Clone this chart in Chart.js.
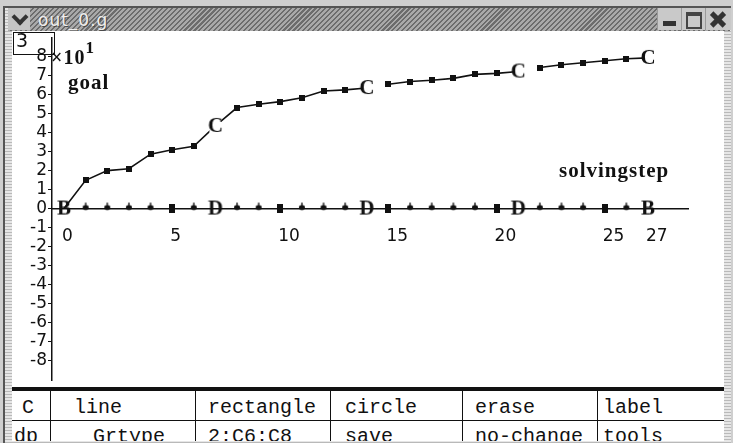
<!DOCTYPE html>
<html>
<head>
<meta charset="utf-8">
<script src="https://cdn.jsdelivr.net/npm/chart.js@4.4.0/dist/chart.umd.min.js"></script>
<style>
  body { margin:0; width:733px; height:443px; overflow:hidden; position:relative; background:#cfcfcf; font-family:"Liberation Sans", sans-serif; }
  .abs { position:absolute; }
  #marco { left:3px; top:6px; width:728px; height:437px; background:repeating-linear-gradient(0deg,#b9b9b9 0 1px,#e6e6e6 1px 3px); border-left:2px solid #555; border-top:2px solid #555; box-sizing:border-box; }
  #titulo { left:8px; top:8px; width:722px; height:23px; background:repeating-linear-gradient(135deg,#6c6c6c 0 1.5px,#a9a9a9 1.5px 3.5px); }
  #flecha { left:8px; top:8px; width:22px; height:22px; background:#c4c4c4; }
  #flecha div { position:absolute; left:6px; top:3px; width:8px; height:8px; border-right:4px solid #333; border-bottom:4px solid #333; transform:rotate(45deg); }
  #nombre { left:38px; top:10px; font:17px "DejaVu Sans", sans-serif; color:#eeeeee; letter-spacing:1px; text-shadow:1px 1px 0 #4a4a4a; }
  .boton { top:8px; width:23px; height:22px; background:#c9c9c9; border-left:1px solid #9a9a9a; }
  #blanco { left:12px; top:31px; width:712px; height:410px; background:#fff; }
  #lienzo { left:14px; top:31px; }
  #caja { left:13px; top:32px; width:42px; height:23px; border:1.5px solid #111; box-sizing:border-box; font:19px "DejaVu Sans", sans-serif; color:#111; }
  .etq { font-family:"Liberation Serif", serif; font-weight:bold; color:#111; letter-spacing:1px; }
  #panel { left:12px; top:387px; width:712px; height:54px; background:#fff; overflow:hidden; border-top:4px solid #111; box-sizing:border-box; }
  .vl { top:0; width:1px; height:54px; background:#111; }
  .txt { font:20px "Liberation Mono", monospace; line-height:20px; color:#111; white-space:pre; }
</style>
</head>
<body>
<div id="marco" class="abs"></div>
<div id="titulo" class="abs"></div>
<div id="flecha" class="abs"><div></div></div>
<div id="nombre" class="abs">out_0.g</div>
<div class="abs boton" style="left:657px"><div class="abs" style="left:5px;top:13px;width:13px;height:5px;background:#333"></div></div>
<div class="abs boton" style="left:681px"><div class="abs" style="left:4px;top:4px;width:12px;height:11px;border:2px solid #444;border-top-width:4px"></div></div>
<div class="abs boton" style="left:705px;width:25px">
  <div class="abs" style="left:3px;top:9px;width:18px;height:5px;background:#333;transform:rotate(45deg)"></div>
  <div class="abs" style="left:3px;top:9px;width:18px;height:5px;background:#333;transform:rotate(-45deg)"></div>
</div>
<div id="blanco" class="abs"></div>
<canvas id="lienzo" class="abs" width="704" height="356"></canvas>
<div id="caja" class="abs"><span class="abs" style="left:2px;top:-4px">3</span></div>
<div class="abs etq" style="left:51px;top:41px;font-size:20px">×10<sup style="font-size:17px;position:relative;top:-3px">1</sup></div>
<div class="abs etq" style="left:68px;top:70px;font-size:21px">goal</div>
<div class="abs etq" style="left:559px;top:158px;font-size:21px">solvingstep</div>
<div id="panel" class="abs">
  <div class="abs vl" style="left:38px"></div>
  <div class="abs vl" style="left:183px"></div>
  <div class="abs vl" style="left:318px"></div>
  <div class="abs vl" style="left:450px"></div>
  <div class="abs vl" style="left:585px"></div>
  <div class="abs" style="left:0;top:29px;width:712px;height:1px;background:#111"></div>
  <div class="abs txt" style="left:10px;top:7px">C</div>
  <div class="abs txt" style="left:62px;top:7px">line</div>
  <div class="abs txt" style="left:196px;top:7px">rectangle</div>
  <div class="abs txt" style="left:333px;top:7px">circle</div>
  <div class="abs txt" style="left:463px;top:7px">erase</div>
  <div class="abs txt" style="left:591px;top:7px">label</div>
  <div class="abs txt" style="left:2px;top:36px">dp</div>
  <div class="abs txt" style="left:81px;top:36px">Grtype</div>
  <div class="abs txt" style="left:196px;top:36px">2:C6:C8</div>
  <div class="abs txt" style="left:333px;top:36px">save</div>
  <div class="abs txt" style="left:463px;top:36px">no-change</div>
  <div class="abs txt" style="left:591px;top:36px">tools</div>
</div>
<script>
// datos (goal en unidades de 10^1)
const pasos = [0,1,2,3,4,5,6,7,8,9,10,11,12,13,14,15,16,17,18,19,20,21,22,23,24,25,26,27];
const meta = [0, 1.49, 2.0, 2.1, 2.87, 3.1, 3.28, 4.36, 5.33, 5.5, 5.64, 5.85, 6.2, 6.26, 6.36,
              6.56, 6.7, 6.77, 6.87, 7.08, 7.13, 7.23, 7.44, 7.59, 7.69, 7.8, 7.9, 7.95];
const marcasMeta = ['', 's','s','s','s','s','s','C','s','s','s','s','s','s','C',
                    's','s','s','s','s','s','C','s','s','s','s','s','C'];
const base = [0,0,0,0,0,0,0,0,0,0,0,0,0,0,0,0,0,0,0,0,0,0,0,0,0,0,0,0];
const marcasBase = ['B','t','t','t','t','q','t','D','t','t','q','t','t','t','D',
                    'q','t','t','t','t','q','D','t','t','t','q','t','B'];
const cortes = [14, 21]; // el trazo se interrumpe despues de estos pasos
const ticksX = [0, 5, 10, 15, 20, 25, 27];
const ticksY = [-8,-7,-6,-5,-4,-3,-2,-1,0,1,2,3,4,5,6,7,8];

const negro = '#111';

function glifo(tipo) {
    const c = document.createElement('canvas');
    const g = c.getContext('2d');
    if (tipo === 's') {
        c.width = 6; c.height = 6;
        g.fillStyle = negro;
        g.fillRect(0, 0, 6, 6);
    } else if (tipo === 'q') {
        c.width = 6; c.height = 9;
        g.fillStyle = negro;
        g.fillRect(0, 0, 6, 9);
    } else if (tipo === 't') {
        c.width = 8; c.height = 14;
        g.fillStyle = negro;
        g.strokeStyle = negro;
        g.beginPath();
        g.ellipse(4, 6, 3, 2.4, 0, 0, Math.PI * 2);
        g.fill();
        g.lineWidth = 1.3;
        g.beginPath();
        g.moveTo(4, 6);
        g.lineTo(4, 1);
        g.stroke();
    } else {
        c.width = 16; c.height = 18;
        if (tipo === 'C') {
            g.fillStyle = '#fff';
            g.fillRect(2, 2, 12, 14);
        }
        g.fillStyle = negro;
        g.font = 'bold 21px "Liberation Serif"';
        g.textAlign = 'center';
        g.textBaseline = 'middle';
        g.fillText(tipo, 8, 10);
    }
    return c;
}

const glifos = {};
['s', 'q', 't', 'C', 'B', 'D'].forEach(k => glifos[k] = glifo(k));

const fuenteEje = { family: '"DejaVu Sans", sans-serif', size: 17 };

var ctx = document.getElementById('lienzo').getContext('2d');
var grafico = new Chart(ctx, {
    type: 'line',
    data: {
        datasets: [{
            label: 'goal',
            data: pasos.map((p, i) => ({ x: p, y: meta[i] })),
            borderColor: negro,
            borderWidth: 1.6,
            pointStyle: c => glifos[marcasMeta[c.dataIndex]] || 'circle',
            pointRadius: c => marcasMeta[c.dataIndex] ? 5 : 0,
            segment: {
                borderColor: c => cortes.includes(c.p0DataIndex) ? 'rgba(0,0,0,0)' : negro
            },
            clip: 20
        }, {
            label: 'base',
            data: pasos.map((p, i) => ({ x: p, y: base[i] })),
            showLine: false,
            pointStyle: c => glifos[marcasBase[c.dataIndex]],
            pointRadius: 5,
            clip: 20
        }]
    },
    options: {
        responsive: false,
        devicePixelRatio: 1,
        animation: false,
        layout: { padding: { left: 0, top: 1, right: 30, bottom: 1 } },
        plugins: { legend: { display: false }, tooltip: { enabled: false } },
        scales: {
            x: {
                type: 'linear',
                position: { y: 0 },
                min: -0.555,
                max: 28.85,
                afterBuildTicks: s => { s.ticks = ticksX.map(v => ({ value: v })); },
                afterFit: s => { s.paddingLeft = 0; s.paddingRight = 0; },
                grid: { display: false },
                border: { display: true, color: negro, width: 1.5 },
                ticks: { align: 'start', labelOffset: -2, padding: 10, color: negro, font: fuenteEje, maxRotation: 0, autoSkip: false }
            },
            y: {
                type: 'linear',
                position: 'left',
                min: -9.07,
                max: 9.02,
                afterBuildTicks: s => { s.ticks = ticksY.map(v => ({ value: v })); },
                afterFit: s => { s.width = 38; s.paddingTop = 0; s.paddingBottom = 0; },
                grid: { display: true, drawOnChartArea: false, drawTicks: true, tickLength: 4, color: negro, lineWidth: 1 },
                border: { display: true, color: negro, width: 1.5 },
                ticks: { padding: 1, color: negro, font: fuenteEje, autoSkip: false }
            }
        }
    }
});
</script>
</body>
</html>
